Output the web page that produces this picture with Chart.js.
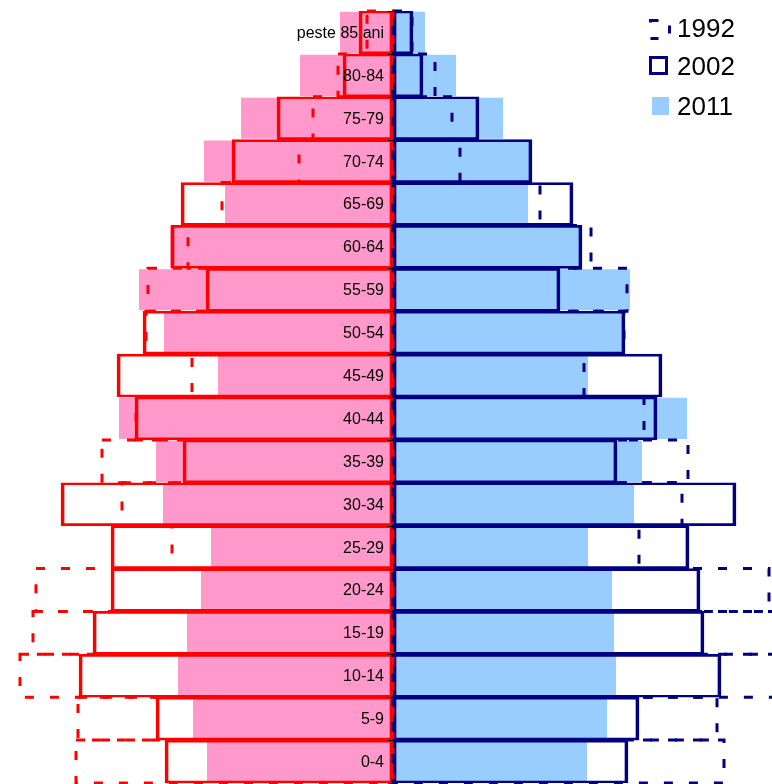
<!DOCTYPE html>
<html>
<head>
<meta charset="utf-8">
<script src="https://cdn.jsdelivr.net/npm/chart.js@4.4.1/dist/chart.umd.min.js"></script>
<style>
  body { margin: 0; background: #fff; }
  .wrap { position: relative; width: 772px; height: 784px; overflow: hidden; }
  .legend { position: absolute; left: 649px; top: 0; font-family: "Liberation Sans", Arial, sans-serif; font-size: 26px; color: #000; }
  .item { position: absolute; left: 0; height: 30px; line-height: 30px; white-space: nowrap; }
  .item svg, .item span.box { position: absolute; left: 0; top: 5px; }
  .item .txt { position: absolute; left: 28px; top: 0; }
  .box.outline { width: 13px; height: 13px; border: 3px solid #000080; }
  .box.fill { left: 3px !important; top: 6px !important; width: 17px; height: 18px; background: #99ccff; }
</style>
</head>
<body>
<div class="wrap">
  <canvas id="pyramid" width="772" height="784"></canvas>
  <div class="legend">
    <div class="item" style="top:13px">
      <svg width="24" height="24"><rect x="1.5" y="2.5" width="19" height="18" fill="none" stroke="#000080" stroke-width="3" stroke-dasharray="8 16"/></svg>
      <span class="txt">1992</span>
    </div>
    <div class="item" style="top:51px">
      <span class="box outline"></span>
      <span class="txt">2002</span>
    </div>
    <div class="item" style="top:91px">
      <span class="box fill"></span>
      <span class="txt">2011</span>
    </div>
  </div>
</div>
<script>
// grupe de varsta, de sus in jos
const ageGroups = ["peste 85 ani", "80-84", "75-79", "70-74", "65-69", "60-64", "55-59", "50-54", "45-49",
  "40-44", "35-39", "30-34", "25-29", "20-24", "15-19", "10-14", "5-9", "0-4"];

// femei (stanga)
const female2011 = [5.3, 9.3, 15.2, 18.9, 16.8, 22.3, 25.4, 22.9, 17.5, 27.4, 23.7, 23.0, 18.2, 19.2, 20.6, 21.5, 20.0, 18.6];
const female2002 = [3.4, 5.0, 11.6, 16.1, 21.2, 22.2, 18.7, 25.0, 27.6, 25.8, 21.0, 33.2, 28.2, 28.2, 30.0, 31.4, 23.7, 22.8];
const female1992 = [2.6, 5.5, 8.0, 9.4, 17.1, 20.5, 24.5, 24.7, 20.1, 25.7, 29.1, 27.1, 22.1, 35.7, 36.0, 37.3, 31.5, 31.7];

// barbati (dreapta)
const male2011 = [3.2, 6.3, 11.0, 13.7, 13.5, 18.7, 23.7, 23.0, 19.5, 29.4, 24.9, 24.1, 19.5, 21.9, 22.1, 22.3, 21.4, 19.4];
const male2002 = [2.0, 3.0, 8.6, 13.9, 18.0, 18.9, 16.7, 23.2, 26.9, 26.4, 22.4, 34.3, 29.6, 30.7, 31.1, 32.8, 24.6, 23.5];
const male1992 = [1.9, 4.2, 5.9, 6.7, 14.7, 19.8, 23.4, 23.1, 19.1, 25.1, 29.5, 28.9, 24.6, 37.6, 38.6, 39.6, 32.4, 33.1];

const years = ["1992", "2002", "2011"];

const PINK = "#ff99cc";
const LIGHTBLUE = "#99ccff";
const RED = "#ff0000";
const NAVY = "#000080";

const neg = (arr) => arr.map((v) => -v);

// conturul punctat pentru 1992 (barele din setul de date, desenate cu linie intrerupta)
const dashedBars = {
  id: "dashedBars",
  afterDatasetsDraw(chart) {
    const ctx = chart.ctx;
    chart.data.datasets.forEach((ds, i) => {
      if (!ds.dashColor) return;
      const meta = chart.getDatasetMeta(i);
      ctx.save();
      ctx.strokeStyle = ds.dashColor;
      ctx.lineWidth = 3;
      ctx.setLineDash([9, 16]);
      meta.data.forEach((bar) => {
        const p = bar.getProps(["x", "y", "base", "height"], true);
        const left = Math.min(p.x, p.base);
        ctx.strokeRect(left, p.y - p.height / 2, Math.abs(p.x - p.base), p.height);
      });
      ctx.restore();
    });
  },
  afterDraw(chart) {
    const ctx = chart.ctx;
    const xs = chart.scales.x;
    const ys = chart.scales.y;
    const x0 = xs.getPixelForValue(0);
    const area = chart.chartArea;
    const rowH = (area.bottom - area.top) / ageGroups.length;
    ctx.save();
    // mici linii de diviziune pe axa centrala
    ctx.strokeStyle = "#000";
    ctx.lineWidth = 1;
    for (let i = 0; i <= ageGroups.length; i++) {
      const y = Math.round(area.top + i * rowH) + 0.5;
      ctx.beginPath();
      ctx.moveTo(x0 - 5, y);
      ctx.lineTo(x0, y);
      ctx.stroke();
    }
    // etichete grupe de varsta
    ctx.fillStyle = "#000";
    ctx.font = '16px "Liberation Sans", Arial, sans-serif';
    ctx.textAlign = "right";
    ctx.textBaseline = "middle";
    ageGroups.forEach((label, i) => {
      ctx.fillText(label, x0 - 9, ys.getPixelForValue(i) + 1);
    });
    ctx.restore();
  },
};

new Chart(document.getElementById("pyramid"), {
  type: "bar",
  data: {
    labels: ageGroups,
    datasets: [
      {
        label: years[0] + " F",
        data: neg(female1992),
        backgroundColor: "rgba(0,0,0,0)",
        borderWidth: 0,
        dashColor: RED,
        barPercentage: 1,
        order: 1,
      },
      {
        label: years[0],
        data: male1992,
        backgroundColor: "rgba(0,0,0,0)",
        borderWidth: 0,
        dashColor: NAVY,
        barPercentage: 1,
        order: 1,
      },
      {
        label: years[1] + " F",
        data: neg(female2002),
        backgroundColor: "rgba(0,0,0,0)",
        borderColor: RED,
        borderWidth: { top: 2, bottom: 2, left: 3, right: 3 },
        borderSkipped: false,
        barPercentage: 1,
        order: 2,
      },
      {
        label: years[1],
        data: male2002,
        backgroundColor: "rgba(0,0,0,0)",
        borderColor: NAVY,
        borderWidth: { top: 2, bottom: 2, left: 3, right: 3 },
        borderSkipped: false,
        barPercentage: 1,
        order: 2,
      },
      {
        label: years[2] + " F",
        data: neg(female2011),
        backgroundColor: PINK,
        borderWidth: 0,
        barPercentage: 0.96,
        order: 3,
      },
      {
        label: years[2],
        data: male2011,
        backgroundColor: LIGHTBLUE,
        borderWidth: 0,
        barPercentage: 0.96,
        order: 3,
      },
    ],
  },
  options: {
    indexAxis: "y",
    responsive: false,
    animation: false,
    events: [],
    datasets: {
      bar: {
        grouped: false,
        categoryPercentage: 1,
      },
    },
    layout: {
      padding: { top: 11, bottom: 1, left: 0, right: 0 },
    },
    plugins: {
      legend: { display: false },
      tooltip: { enabled: false },
    },
    scales: {
      x: {
        type: "linear",
        min: -39.3,
        max: 37.9,
        display: false,
      },
      y: {
        display: false,
      },
    },
  },
  plugins: [dashedBars],
});
</script>
</body>
</html>
